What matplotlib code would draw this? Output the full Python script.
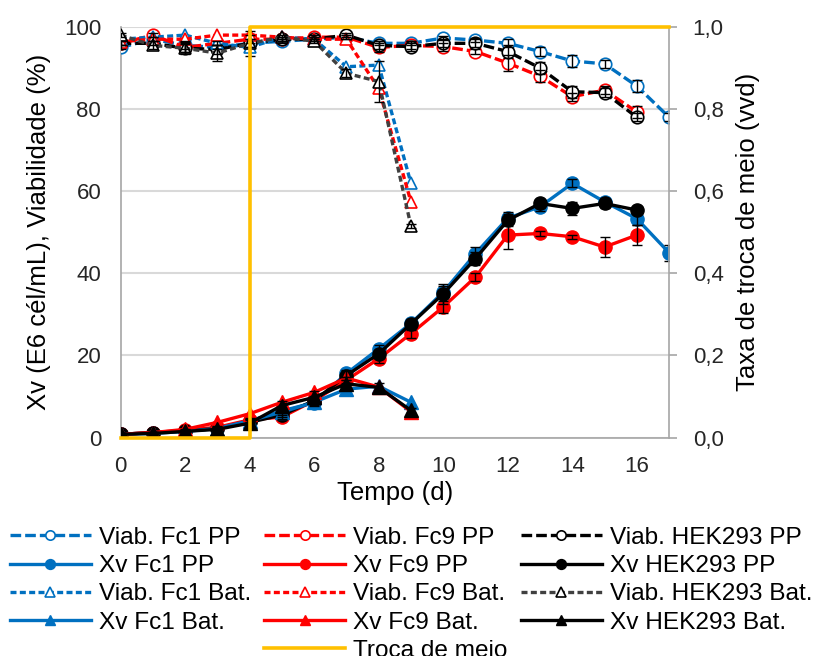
import matplotlib
matplotlib.use("Agg")
import matplotlib.pyplot as plt
from matplotlib.lines import Line2D

plt.rcParams['font.family'] = ['Liberation Sans', 'DejaVu Sans']

# dias
dias_fc1_pp = list(range(18))
dias_pp = list(range(17))
dias_bat = list(range(10))

# viabilidade (%) - perfusao (PP)
viab_fc1_pp = [95, 97, 95.5, 95, 96, 96.5, 97, 97.5, 96, 96, 97.3, 96.8, 96, 94, 91.7, 91, 85.6, 78]
viab_fc9_pp = [96, 98, 95, 96, 97, 97, 97.5, 97.5, 95, 95.5, 95.2, 94, 91.2, 88, 83, 84.6, 79.3]
viab_hek_pp = [96, 96, 94.8, 94.5, 96, 97, 97, 98, 95.5, 95.2, 96, 96, 94, 90, 84.2, 84, 78]
viab_fc1_pp_err = [0.5, 0.5, 1, 0.5, 1, 0.5, 0.5, 0.5, 0.5, 0.5, 0.5, 0.5, 1, 1, 1.5, 1, 1.5, 1]
viab_fc9_pp_err = [0.5, 0.5, 1, 0.5, 1, 0.5, 0.5, 0.5, 1, 1, 1, 0.5, 2, 1.5, 1, 1, 1.5]
viab_hek_pp_err = [0.5, 0.5, 1, 1, 1, 0.5, 0.5, 0.5, 1, 1, 1, 1, 1.5, 1.5, 1.5, 1, 1]

# densidade celular viavel (E6 cel/mL) - PP
xv_fc1_pp = [0.8, 1.2, 1.6, 2.3, 4.0, 6.5, 8.5, 15.6, 21.6, 27.8, 35.4, 44.8, 53.4, 56.2, 61.9, 57.4, 53.3, 45]
xv_fc9_pp = [0.8, 1.2, 1.8, 2.5, 4.3, 5.0, 9.0, 14.0, 19.2, 25.3, 31.8, 39.1, 49.3, 49.7, 48.9, 46.4, 49.3]
xv_hek_pp = [0.8, 1.2, 1.6, 2.2, 3.7, 5.5, 9.0, 15.1, 20.4, 27.7, 35.0, 43.6, 52.9, 57.0, 55.8, 57.0, 55.4]
xv_fc1_pp_err = [0.2, 0.2, 0.3, 0.3, 0.5, 0.5, 0.8, 0.8, 1, 1, 1.5, 1.5, 1.5, 1, 1, 1, 1.5, 2]
xv_fc9_pp_err = [0.2, 0.2, 0.3, 0.3, 0.5, 0.5, 0.8, 0.8, 1, 1, 1.5, 1, 3.5, 0.5, 0.5, 2.5, 2.5]
xv_hek_pp_err = [0.2, 0.2, 0.3, 0.3, 0.5, 0.5, 1, 1, 1, 1, 2.5, 1.5, 1.5, 1, 1.5, 1, 1]

# batelada (Bat.)
viab_fc1_bat = [97, 97.5, 98, 96, 95, 97.5, 97, 90.3, 90.7, 61.9]
viab_fc9_bat = [96.4, 97, 97, 98, 98, 97.5, 97, 97, 85, 57.4]
viab_hek_bat = [98, 95.5, 94.8, 93.6, 96, 97.5, 96.5, 88.7, 86.7, 51.5]
viab_hek_bat_err = [0.5, 1, 1.5, 2, 3, 0.5, 0.5, 1, 5, 0.5]
xv_fc1_bat = [0.8, 1.0, 1.5, 2.2, 4.1, 6.2, 8.6, 11.8, 12.5, 8.6]
xv_fc9_bat = [0.8, 1.2, 2.0, 3.7, 5.8, 8.6, 11.0, 14.5, 12.3, 6.3]
xv_hek_bat = [0.8, 1.0, 1.5, 2.0, 3.5, 7.8, 9.8, 13.1, 12.2, 6.6]
xv_hek_bat_err = [0.2, 0.2, 0.3, 0.5, 1, 1, 1.5, 1, 1, 0.5]

# troca de meio (vvd)
dias_troca = [0, 4, 4, 17]
troca = [0, 0, 1.0, 1.0]

azul = '#0070C0'
verm = '#FF0000'
preto = '#000000'
amarelo = '#FFC000'

fig = plt.figure(figsize=(8.26, 6.56), dpi=100)
ax = fig.add_axes([0.146, 0.333, 0.664, 0.626])

lw = 2.4
dash_pp = (3.2, 1.2)
dash_bat = (1.8, 1.0)

handles = {}

def viab(x, y, cor, mk, dash, nome):
    l, = ax.plot(x, y, color=cor, lw=lw, dashes=dash, marker=mk, ms=9,
                 mfc='white', mec=cor, mew=1.2, label=nome, zorder=3)
    handles[nome] = l

def xv(x, y, cor, mk, nome):
    l, = ax.plot(x, y, color=cor, lw=lw, marker=mk, ms=9.5, mfc=cor, mec=cor,
                 label=nome, zorder=4)
    handles[nome] = l

viab(dias_fc1_pp, viab_fc1_pp, azul, 'o', dash_pp, 'Viab. Fc1 PP')
viab(dias_pp, viab_fc9_pp, verm, 'o', dash_pp, 'Viab. Fc9 PP')
viab(dias_pp, viab_hek_pp, preto, 'o', dash_pp, 'Viab. HEK293 PP')
viab(dias_bat, viab_fc1_bat, azul, '^', dash_bat, 'Viab. Fc1 Bat.')
viab(dias_bat, viab_fc9_bat, verm, '^', dash_bat, 'Viab. Fc9 Bat.')
viab(dias_bat, viab_hek_bat, '#404040', '^', dash_bat, 'Viab. HEK293 Bat.')
handles['Viab. HEK293 Bat.'].set_mec(preto)

xv(dias_fc1_pp, xv_fc1_pp, azul, 'o', 'Xv Fc1 PP')
xv(dias_pp, xv_fc9_pp, verm, 'o', 'Xv Fc9 PP')
xv(dias_pp, xv_hek_pp, preto, 'o', 'Xv HEK293 PP')
xv(dias_bat, xv_fc1_bat, azul, '^', 'Xv Fc1 Bat.')
xv(dias_bat, xv_fc9_bat, verm, '^', 'Xv Fc9 Bat.')
xv(dias_bat, xv_hek_bat, preto, '^', 'Xv HEK293 Bat.')

# barras de erro
for x, y, e in [(dias_fc1_pp, viab_fc1_pp, viab_fc1_pp_err),
                (dias_pp, viab_fc9_pp, viab_fc9_pp_err),
                (dias_pp, viab_hek_pp, viab_hek_pp_err),
                (dias_bat, viab_hek_bat, viab_hek_bat_err),
                (dias_fc1_pp, xv_fc1_pp, xv_fc1_pp_err),
                (dias_pp, xv_fc9_pp, xv_fc9_pp_err),
                (dias_pp, xv_hek_pp, xv_hek_pp_err),
                (dias_bat, xv_hek_bat, xv_hek_bat_err)]:
    ax.errorbar(x, y, yerr=e, fmt='none', ecolor='black', elinewidth=1,
                capsize=3.5, capthick=1, zorder=5)

ax.set_xlim(0, 17)
ax.set_ylim(0, 100)
ax.set_xticks(range(0, 17, 2))
ax.set_yticks(range(0, 101, 20))
ax.grid(axis='y', color='#D9D9D9', lw=1.5)
ax.set_axisbelow(True)
for s in ['top', 'right']:
    ax.spines[s].set_visible(False)
for s in ['left', 'bottom']:
    ax.spines[s].set_color('#A6A6A6')
    ax.spines[s].set_linewidth(1.2)
ax.tick_params(axis='both', length=0, labelsize=16, colors='#262626')
ax.tick_params(axis='y', pad=14)
ax.tick_params(axis='x', pad=13)
ax.set_xlabel('Tempo (d)', fontsize=18.5, labelpad=3)
ax.set_ylabel('Xv (E6 cél/mL), Viabilidade (%)', fontsize=18.5, labelpad=9)

ax2 = ax.twinx()
lt, = ax2.plot(dias_troca, troca, color=amarelo, lw=2.6, label='Troca de meio',
               clip_on=False, zorder=6)
handles['Troca de meio'] = lt
ax2.set_ylim(0, 1.0)
ax2.set_yticks([0, 0.2, 0.4, 0.6, 0.8, 1.0])
ax2.set_yticklabels(['0,0', '0,2', '0,4', '0,6', '0,8', '1,0'])
for s in ['top', 'left', 'bottom']:
    ax2.spines[s].set_visible(False)
ax2.spines['right'].set_color('#A6A6A6')
ax2.spines['right'].set_linewidth(1.2)
ax2.tick_params(axis='y', length=6, width=1.2, color='#A6A6A6', pad=11,
                labelsize=16, labelcolor='#262626')
ax2.set_ylabel('Taxa de troca de meio (vvd)', fontsize=18.5, labelpad=9)

branco = Line2D([], [], color='none', label=' ')
ordem = ['Viab. Fc1 PP', 'Xv Fc1 PP', 'Viab. Fc1 Bat.', 'Xv Fc1 Bat.', None,
         'Viab. Fc9 PP', 'Xv Fc9 PP', 'Viab. Fc9 Bat.', 'Xv Fc9 Bat.', 'Troca de meio',
         'Viab. HEK293 PP', 'Xv HEK293 PP', 'Viab. HEK293 Bat.', 'Xv HEK293 Bat.']
hs = [handles[k] if k else branco for k in ordem]
ls = [k if k else ' ' for k in ordem]
fig.legend(hs, ls, loc='upper left', bbox_to_anchor=(0.012, 0.197), ncol=3,
           frameon=False, fontsize=17.6, handlelength=3.3, handletextpad=0.33,
           columnspacing=0.55, labelspacing=0.25, borderaxespad=0, borderpad=0,
           numpoints=1, markerscale=0.75)

fig.savefig('out.png', dpi=100)
